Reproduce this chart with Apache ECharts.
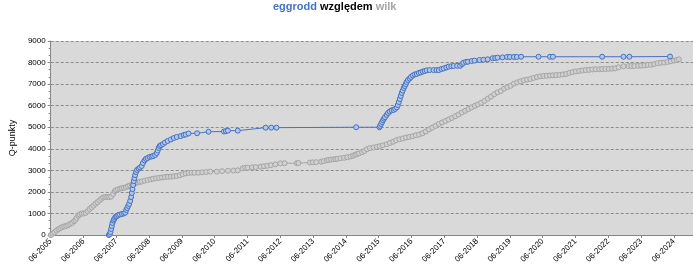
<!DOCTYPE html>
<html>
<head>
<meta charset="utf-8">
<script src="https://cdn.jsdelivr.net/npm/echarts@6/dist/echarts.min.js"></script>
<style>
html,body{margin:0;padding:0;background:#fff;}
#c{width:693px;height:266px;}
</style>
</head>
<body>
<div id="c"></div>
<script>
// Tick labels (one per June, every 12 months from 06-2005)
const xTickLabels = ["06-2005","06-2006","06-2007","06-2008","06-2009","06-2010","06-2011","06-2012","06-2013","06-2014","06-2015","06-2016","06-2017","06-2018","06-2019","06-2020","06-2021","06-2022","06-2023","06-2024"];

// eggrodd (blue) — decimal years and Q-points
const blueYears = [2007.19,2007.22,2007.24,2007.26,2007.28,2007.30,2007.33,2007.35,2007.38,2007.41,2007.44,2007.48,2007.53,2007.59,2007.65,2007.69,2007.72,2007.75,2007.78,2007.81,2007.84,2007.87,2007.89,2007.91,2007.93,2007.95,2007.97,2007.99,2008.02,2008.05,2008.10,2008.14,2008.19,2008.23,2008.28,2008.32,2008.37,2008.43,2008.49,2008.54,2008.60,2008.65,2008.68,2008.71,2008.74,2008.78,2008.84,2008.90,2008.98,2009.08,2009.17,2009.26,2009.38,2009.47,2009.53,2009.62,2009.88,2010.23,2010.70,2010.76,2010.82,2011.12,2011.97,2012.14,2012.30,2014.73,2015.44,
2015.46,2015.49,2015.52,2015.55,2015.58,2015.61,2015.66,2015.70,2015.75,2015.81,2015.87,2015.92,2015.97,2016.00,2016.03,2016.06,2016.09,2016.12,2016.15,2016.18,2016.21,2016.24,2016.27,2016.31,2016.36,2016.40,2016.46,2016.52,2016.58,2016.64,2016.70,2016.76,2016.82,2016.88,2016.97,2017.09,2017.18,2017.25,2017.33,2017.40,2017.48,2017.55,2017.63,2017.70,2017.81,2017.90,2017.96,2018.00,2018.08,2018.14,2018.25,2018.34,2018.49,2018.61,2018.74,2018.89,2018.97,2019.04,2019.19,2019.33,2019.42,2019.54,2019.63,2019.76,2020.29,2020.64,2020.73,2022.23,2022.88,2023.06,2024.30];
const blueValues = [0,50,140,280,420,560,670,740,810,860,880,930,950,975,1000,1040,1160,1250,1350,1440,1580,1760,1950,2130,2320,2500,2640,2780,2920,3020,3080,3130,3200,3340,3460,3530,3570,3620,3640,3660,3710,3800,3920,4040,4130,4170,4220,4290,4360,4430,4500,4550,4590,4640,4660,4710,4720,4790,4800,4820,4840,4840,4980,4980,4980,5000,5000,
5060,5150,5240,5330,5400,5470,5570,5660,5730,5780,5800,5850,5920,6030,6170,6310,6450,6590,6700,6820,6910,7000,7100,7190,7260,7330,7400,7450,7470,7520,7540,7580,7610,7640,7650,7650,7650,7650,7700,7730,7770,7810,7830,7840,7850,7850,7930,7990,8030,8040,8070,8090,8120,8130,8150,8200,8210,8230,8240,8260,8260,8260,8260,8270,8270,8270,8270,8270,8270,8270,8280];

// wilk (gray) — decimal years and Q-points
const grayYears = [2005.42,2005.47,2005.53,2005.59,2005.65,2005.71,2005.77,2005.83,2005.89,2005.95,2006.01,2006.07,2006.13,2006.17,2006.21,2006.26,2006.30,2006.36,2006.42,2006.48,2006.54,2006.60,2006.66,2006.72,2006.78,2006.84,2006.90,2006.96,2007.02,2007.08,2007.14,2007.20,2007.26,2007.32,2007.37,2007.41,2007.47,2007.53,2007.59,2007.65,2007.71,2007.77,2007.83,2007.89,2007.95,2008.01,2008.07,2008.13,2008.19,2008.28,2008.37,2008.46,2008.54,2008.63,2008.72,2008.81,2008.90,2008.99,2009.08,2009.17,2009.26,2009.35,2009.44,2009.53,2009.62,2009.71,2009.80,2009.92,2010.04,2010.16,2010.28,2010.48,2010.64,2010.82,2010.99,2011.12,2011.27,2011.35,2011.42,2011.56,2011.67,2011.82,2011.92,2012.02,2012.13,2012.27,2012.42,2012.55,2012.92,2012.97,2013.32,2013.41,2013.51,2013.66,2013.74,2013.83,2013.89,2013.96,2014.04,2014.10,2014.16,2014.25,2014.36,2014.46,2014.56,2014.64,2014.70,2014.76,2014.82,2014.91,2014.98,2015.06,2015.15,2015.26,2015.36,2015.45,2015.54,2015.66,2015.76,2015.86,2015.95,2016.05,2016.15,2016.25,2016.35,2016.45,2016.55,2016.65,2016.75,2016.85,2016.95,2017.05,2017.15,2017.25,2017.35,2017.45,2017.55,2017.65,2017.75,2017.85,2017.95,2018.05,2018.15,2018.25,2018.35,2018.44,2018.54,2018.64,2018.74,2018.84,2018.94,2019.04,2019.14,2019.24,2019.34,2019.44,2019.54,2019.64,2019.74,2019.84,2019.94,2020.04,2020.14,2020.24,2020.34,2020.44,2020.54,2020.64,2020.73,2020.83,2020.93,2021.03,2021.13,2021.23,2021.33,2021.43,2021.53,2021.63,2021.73,2021.83,2021.93,2022.03,2022.14,2022.23,2022.33,2022.43,2022.53,2022.63,2022.73,2022.88,2023.03,2023.12,2023.21,2023.33,2023.42,2023.52,2023.62,2023.72,2023.82,2023.92,2024.02,2024.12,2024.22,2024.32,2024.42,2024.50,2024.57];
const grayValues = [0,50,120,200,270,320,370,400,420,460,510,560,640,700,800,900,950,990,1000,1020,1100,1200,1280,1360,1450,1520,1600,1680,1740,1760,1760,1760,1780,1900,2030,2080,2120,2150,2170,2190,2220,2260,2300,2330,2380,2410,2440,2460,2480,2520,2550,2580,2610,2630,2650,2670,2690,2700,2710,2720,2740,2770,2820,2860,2880,2890,2890,2890,2910,2920,2940,2940,2960,2980,2990,3000,3090,3120,3120,3140,3150,3170,3190,3210,3240,3280,3320,3330,3330,3340,3360,3370,3380,3400,3430,3460,3480,3500,3510,3520,3540,3560,3580,3610,3640,3680,3720,3760,3790,3840,3900,3980,4030,4060,4090,4120,4160,4210,4270,4330,4400,4440,4480,4520,4550,4580,4630,4660,4720,4800,4900,4980,5060,5150,5220,5290,5360,5430,5510,5590,5680,5760,5840,5920,5990,6060,6130,6220,6320,6420,6530,6620,6680,6790,6860,6920,7020,7080,7130,7180,7210,7240,7290,7330,7360,7380,7390,7400,7410,7420,7430,7450,7470,7520,7560,7590,7610,7630,7650,7660,7680,7690,7690,7700,7700,7710,7720,7730,7780,7830,7840,7840,7840,7850,7860,7870,7890,7900,7930,7970,7990,8000,8030,8060,8090,8120,8150];

const yTicks = [0,1000,2000,3000,4000,5000,6000,7000,8000,9000];

const START = 2005 + 5/12; // June 2005
const toMonths = y => (y - START) * 12;
const blueData = blueYears.map((y, i) => [toMonths(y), blueValues[i]]);
const grayData = grayYears.map((y, i) => [toMonths(y), grayValues[i]]);

const FONT = '"Liberation Sans", Arial, sans-serif';
const chart = echarts.init(document.getElementById('c'), null, {renderer: 'canvas'});
chart.setOption({
  animation: false,
  backgroundColor: '#ffffff',
  title: {
    text: '{b|eggrodd} {k|względem} {g|wilk}',
    left: 273, top: 1, padding: 0,
    textStyle: {
      fontFamily: FONT, fontSize: 11, fontWeight: 'bold',
      rich: {
        b: {color: '#4472C4', fontFamily: FONT, fontSize: 11, fontWeight: 'bold'},
        k: {color: '#000000', fontFamily: FONT, fontSize: 11, fontWeight: 'bold'},
        g: {color: '#A5A5A5', fontFamily: FONT, fontSize: 11, fontWeight: 'bold'}
      }
    }
  },
  grid: {left: 37, right: 0, top: 41, bottom: 31, show: true, backgroundColor: '#D9D9D9', borderWidth: 0},
  xAxis: {
    type: 'value', min: 0, max: 235, interval: 12,
    axisLine: {show: true, lineStyle: {color: '#868686', width: 1}},
    axisTick: {show: true, length: 3, lineStyle: {color: '#868686'}},
    splitLine: {show: false},
    axisLabel: {
      rotate: 45, fontSize: 8, fontFamily: FONT, color: '#000', margin: 5,
      showMaxLabel: false,
      formatter: v => xTickLabels[Math.round(v / 12)] || ''
    }
  },
  yAxis: {
    type: 'value', min: 0, max: 9000, interval: 1000,
    name: 'Q-punkty', nameLocation: 'middle', nameGap: 28, nameRotate: 90,
    nameTextStyle: {fontFamily: FONT, fontSize: 9, color: '#000'},
    axisLine: {show: true, lineStyle: {color: '#868686', width: 1}},
    axisTick: {show: true, length: 3, lineStyle: {color: '#868686'}},
    minorTick: {show: true, splitNumber: 3, length: 2, lineStyle: {color: '#868686'}},
    splitLine: {show: true, lineStyle: {color: '#8C8C8C', type: [3, 2], width: 1}},
    axisLabel: {fontSize: 8, fontFamily: FONT, color: '#000', margin: 5,
      formatter: v => yTicks.includes(v) ? String(v) : ''}
  },
  series: [
    {
      name: 'wilk', type: 'line', data: grayData, z: 2,
      symbol: 'circle', symbolSize: 5, showSymbol: true,
      lineStyle: {color: '#A5A5A5', width: 1},
      itemStyle: {color: '#D0D0D0', borderColor: '#A5A5A5', borderWidth: 1}
    },
    {
      name: 'eggrodd', type: 'line', data: blueData, z: 3,
      symbol: 'circle', symbolSize: 5, showSymbol: true,
      lineStyle: {color: '#4472C4', width: 1},
      itemStyle: {color: '#B4C6E7', borderColor: '#4472C4', borderWidth: 1}
    }
  ]
});
</script>
</body>
</html>
